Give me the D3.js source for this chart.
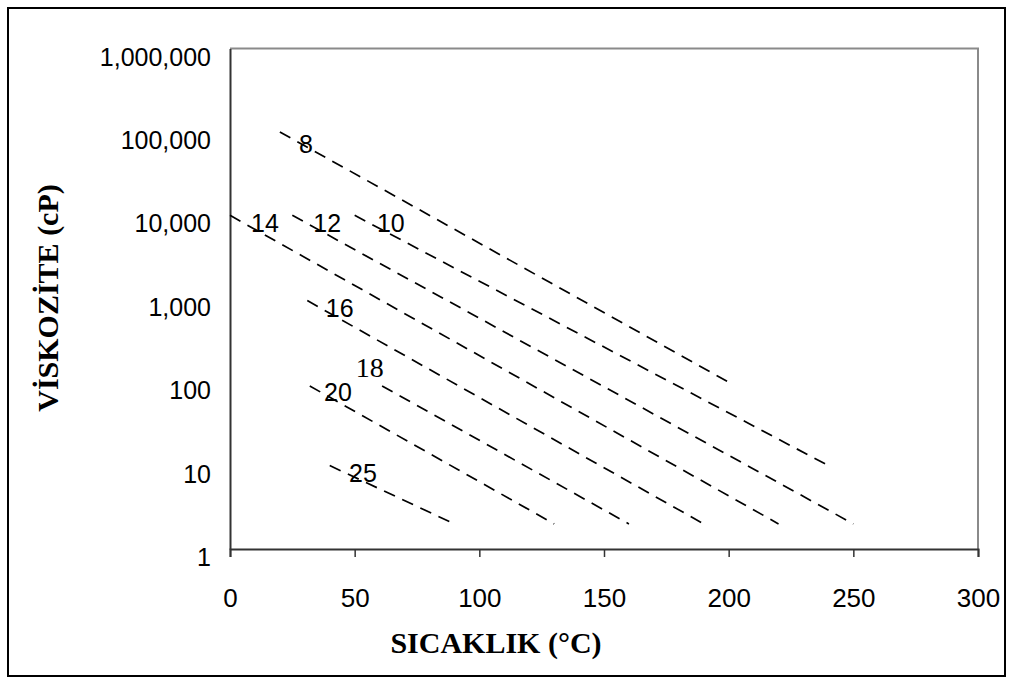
<!DOCTYPE html>
<html>
<head>
<meta charset="utf-8">
<script src="https://cdn.jsdelivr.net/npm/d3@7"></script>
<style>
  html, body { margin: 0; padding: 0; background: #fff; }
  svg { display: block; }
</style>
</head>
<body>
<svg id="chart" width="1013" height="684"></svg>
<script>
// ---- data ----
const xTicks = [0, 50, 100, 150, 200, 250, 300];
const yTicks = [1, 10, 100, 1000, 10000, 100000, 1000000];
const seriesNames = ["8", "10", "12", "14", "16", "18", "20", "25"];
const startTemp = [20, 50, 25, 0, 31, 61, 32, 40];
const startVisc = [100000, 10000, 10000, 10000, 950, 90, 90, 10];
const endTemp = [200, 240, 250, 220, 190, 160, 130, 90];
const endVisc = [100, 10, 2, 2, 2, 2, 2, 2];
const labelTemp = [30.5, 64.5, 39, 14, 44, 56, 43.3, 53.3];
const labelVisc = [72000, 8000, 8000, 8000, 770, 150, 76, 8.1];
const xTitle = "SICAKLIK (°C)";
const yTitle = "VİSKOZİTE (cP)";

// ---- layout ----
const svg = d3.select("#chart");
const pLeft = 230, pRight = 978, pTop = 48.5, pBottom = 549;

const x = d3.scaleLinear().domain([0, 300]).range([pLeft, pRight]);
const y = d3.scaleLog().domain([1, 1000000]).range([pBottom, pTop]);

// outer border
svg.append("rect")
  .attr("x", 8).attr("y", 8).attr("width", 997).attr("height", 668)
  .attr("fill", "none").attr("stroke", "#000").attr("stroke-width", 2);

// top & right frame (gray)
svg.append("path")
  .attr("d", `M${pLeft},${pTop}H${pRight}V${pBottom}`)
  .attr("fill", "none").attr("stroke", "#8a8a8a").attr("stroke-width", 2);

// x axis
const xAxis = svg.append("g")
  .attr("transform", `translate(0,${pBottom})`)
  .call(d3.axisBottom(x).tickValues(xTicks).tickSize(8).tickPadding(32).tickFormat(d3.format("d")));
xAxis.select(".domain").attr("stroke", "#333").attr("stroke-width", 2);
xAxis.selectAll(".tick line").attr("stroke", "#333").attr("stroke-width", 1.5);
xAxis.selectAll(".tick text")
  .attr("font-family", "'Liberation Sans', Arial, sans-serif")
  .attr("font-size", 26).attr("fill", "#000");

// y axis
const yAxis = svg.append("g")
  .attr("transform", `translate(${pLeft},0)`)
  .call(d3.axisLeft(y).tickValues(yTicks).tickSize(0).tickPadding(19).tickFormat(d3.format(",")));
yAxis.select(".domain").attr("stroke", "#333").attr("stroke-width", 2);
yAxis.selectAll(".tick text")
  .attr("font-family", "'Liberation Sans', Arial, sans-serif")
  .attr("font-size", 25).attr("fill", "#000").attr("dy", "0.66em");

// series lines
const lines = seriesNames.map((n, i) => ({
  name: n,
  pts: [[startTemp[i], startVisc[i]], [endTemp[i], endVisc[i]]]
}));
const lineGen = d3.line().x(d => x(d[0])).y(d => y(d[1]));
svg.append("g").selectAll("path").data(lines).join("path")
  .attr("d", d => lineGen(d.pts))
  .attr("fill", "none").attr("stroke", "#000")
  .attr("stroke-width", 1.7).attr("stroke-dasharray", "12,8");

// line labels
svg.append("g").selectAll("text").data(seriesNames).join("text")
  .attr("x", (d, i) => x(labelTemp[i]))
  .attr("y", (d, i) => y(labelVisc[i]))
  .attr("text-anchor", "middle").attr("dominant-baseline", "central")
  .attr("font-family", d => d === "18" ? "'Liberation Serif', 'Times New Roman', serif" : "'Liberation Sans', Arial, sans-serif")
  .attr("font-size", d => d === "18" ? 28 : 25)
  .attr("fill", "#000")
  .text(d => d);

// axis titles
svg.append("text")
  .attr("x", 496).attr("y", 653)
  .attr("text-anchor", "middle")
  .attr("font-family", "'Liberation Serif', 'Times New Roman', serif")
  .attr("font-weight", "bold").attr("font-size", 30)
  .text(xTitle);

svg.append("text")
  .attr("transform", "translate(58,298) rotate(-90)")
  .attr("text-anchor", "middle")
  .attr("font-family", "'Liberation Serif', 'Times New Roman', serif")
  .attr("font-weight", "bold").attr("font-size", 30)
  .text(yTitle);
</script>
</body>
</html>
